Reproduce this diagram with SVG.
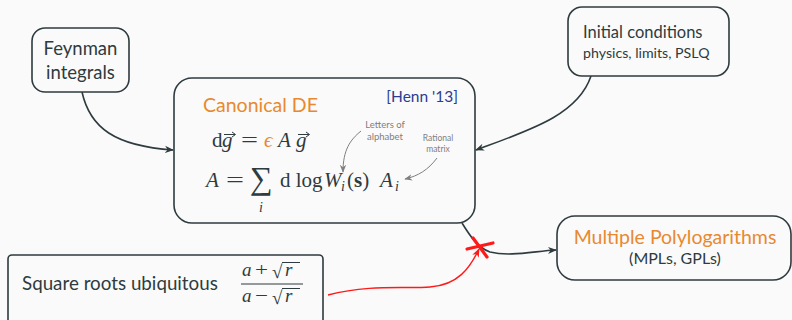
<svg xmlns="http://www.w3.org/2000/svg" width="792" height="320" viewBox="0 0 792 320">
<defs>
<style>
.box{fill:#fafafa;stroke:#2e3b3f;stroke-width:1.6}
.sans{font-family:Lato,"Open Sans","DejaVu Sans",sans-serif;fill:#2e3b3f}
.math{font-family:"Liberation Serif","DejaVu Serif",serif;fill:#2e3b3f}
.it{font-style:italic}
.or{fill:#e8892f}
.conn{fill:none;stroke:#2e3b3f;stroke-width:1.6}
.gray{fill:none;stroke:#7f7f7f;stroke-width:1}
.red{fill:none;stroke:#ff1a1a;stroke-width:1.4}
.note{font-family:Lato,"Open Sans","DejaVu Sans",sans-serif;fill:#7f7f7f}
.vec{fill:none;stroke:#2e3b3f;stroke-width:1}
</style>
<marker id="ah" viewBox="0 0 10 10" refX="9" refY="5" markerWidth="9" markerHeight="9" markerUnits="userSpaceOnUse" orient="auto">
<path d="M0,1 L10,5 L0,9 L3,5 Z" fill="#2e3b3f"/>
</marker>
<marker id="ahg" viewBox="0 0 10 10" refX="9" refY="5" markerWidth="8" markerHeight="8" markerUnits="userSpaceOnUse" orient="auto">
<path d="M0,1 L10,5 L0,9 L3,5 Z" fill="#7f7f7f"/>
</marker>
<marker id="ahr" viewBox="0 0 10 10" refX="9" refY="5" markerWidth="9" markerHeight="9" markerUnits="userSpaceOnUse" orient="auto">
<path d="M0,1 L10,5 L0,9 L3,5 Z" fill="#ff1a1a"/>
</marker>
</defs>
<rect width="792" height="320" fill="#fafafa"/>

<g id="connectors">
<path class="conn" d="M82,92 C90,128 115,146 173,150" marker-end="url(#ah)"/>
<path class="conn" d="M591,76 C578,115 530,130 476,150" marker-end="url(#ah)"/>
<path class="conn" d="M462,223 C470,236 478,248 490,252 C510,257 535,251 556,250" marker-end="url(#ah)"/>
<path class="red" d="M328,295 C370,284 405,289 430,287 C458,285 470,268 479,249" marker-end="url(#ahr)"/>
<g stroke="#ff1a1a" stroke-width="3.2" stroke-linecap="round">
<line x1="467" y1="249" x2="493" y2="243"/>
<line x1="473" y1="238" x2="487" y2="257"/>
</g>
</g>

<g id="feynman">
<rect class="box" x="32" y="28" width="97" height="64" rx="13"/>
<text class="sans" x="80.5" y="55" font-size="18.5" text-anchor="middle">Feynman</text>
<text class="sans" x="80.5" y="79" font-size="18.5" text-anchor="middle">integrals</text>
</g>

<g id="initial">
<rect class="box" x="568" y="7" width="161" height="69" rx="14"/>
<text class="sans" x="583" y="38" font-size="16.5">Initial conditions</text>
<text class="sans" x="583" y="58" font-size="14.2">physics, limits, PSLQ</text>
</g>

<g id="canonical">
<rect class="box" x="174" y="78" width="301" height="145" rx="18"/>
<text class="sans" x="458" y="102" font-size="15.5" text-anchor="end" style="fill:#2b3d91">[Henn '13]</text>
<text class="sans" x="203" y="112" font-size="19.5" style="fill:#e8892f">Canonical DE</text>
<g class="math" font-size="21">
<text x="212" y="147">d</text>
<text class="it" x="222" y="147">g</text>
<text x="241" y="147" textLength="17" lengthAdjust="spacingAndGlyphs">=</text>
<text class="it or" x="264" y="147">ϵ</text>
<text class="it" x="278" y="147">A</text>
<text class="it" x="296" y="147">g</text>
</g>
<path class="vec" d="M224,134.5 H235 M232,132 L235.5,134.5 L232,137"/>
<path class="vec" d="M298,134.5 H309 M306,132 L309.5,134.5 L306,137"/>
<g class="math" font-size="21">
<text class="it" x="206" y="187">A</text>
<text x="226" y="187" textLength="18" lengthAdjust="spacingAndGlyphs">=</text>
<text x="250" y="189" font-size="32">∑</text>
<text class="it" x="259" y="212" font-size="14">i</text>
<text x="280" y="187">d log</text>
<text class="it" x="324" y="187">W</text>
<text class="it" x="341" y="191" font-size="14">i</text>
<text x="347" y="187">(<tspan font-weight="bold">s</tspan>)</text>
<text class="it" x="380" y="187">A</text>
<text class="it" x="395" y="191" font-size="14">i</text>
</g>
<text class="note" x="385" y="128" font-size="9.5" text-anchor="middle">Letters of</text>
<text class="note" x="385" y="140" font-size="9.5" text-anchor="middle">alphabet</text>
<text class="note" x="438" y="141" font-size="8.5" text-anchor="middle">Rational</text>
<text class="note" x="438" y="152" font-size="8.5" text-anchor="middle">matrix</text>
<path class="gray" d="M361,131 C350,140 343,150 343,172" marker-end="url(#ahg)"/>
<path class="gray" d="M437,158 C428,170 418,176 405,179" marker-end="url(#ahg)"/>
</g>

<g id="sqrt">
<rect class="box" x="8" y="255" width="315" height="75" rx="4"/>
<text class="sans" x="22" y="290" font-size="18.8">Square roots ubiquitous</text>
<g class="math" font-size="19">
<text class="it" x="242" y="276">a</text>
<text x="255" y="276" textLength="13" lengthAdjust="spacingAndGlyphs">+</text>
<text x="272" y="278">√</text>
<text class="it" x="285" y="276">r</text>
<text class="it" x="242" y="302">a</text>
<text x="255" y="302" textLength="13" lengthAdjust="spacingAndGlyphs">−</text>
<text x="272" y="304">√</text>
<text class="it" x="285" y="302">r</text>
</g>
<path d="M282,262.5 H300 M282,288.5 H300" stroke="#2e3b3f" stroke-width="1"/>
<line x1="241" y1="284" x2="303" y2="284" stroke="#2e3b3f" stroke-width="1"/>
</g>

<g id="mpl">
<rect class="box" x="557" y="216" width="234" height="64" rx="18"/>
<text class="sans" x="675" y="244" font-size="19.5" text-anchor="middle" style="fill:#e8892f">Multiple Polylogarithms</text>
<text class="sans" x="675" y="264" font-size="16" text-anchor="middle">(MPLs, GPLs)</text>
</g>
</svg>
